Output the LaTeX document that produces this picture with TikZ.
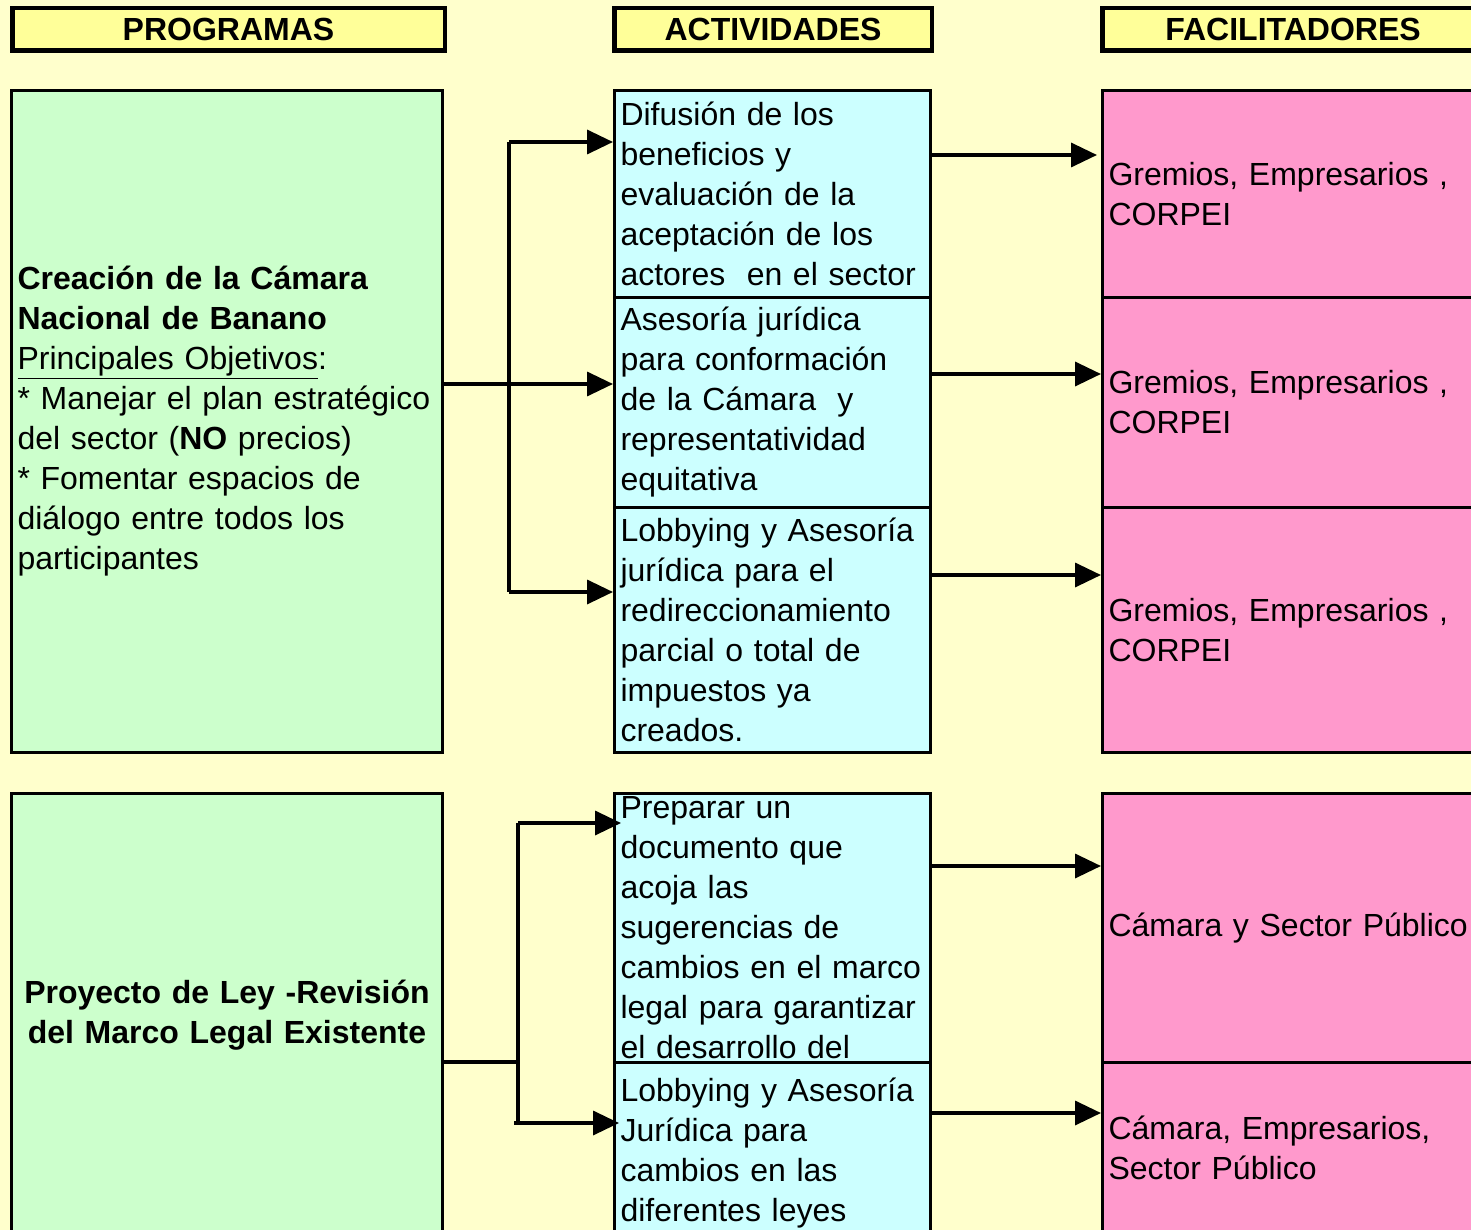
\documentclass[tikz,border=0pt]{standalone}
\usepackage{fontspec}
\setmainfont{Liberation Sans}
\usetikzlibrary{arrows.meta}

\definecolor{fondo}{HTML}{FFFFCC}
\definecolor{titulo}{HTML}{FFFF99}
\definecolor{verde}{HTML}{CCFFCC}
\definecolor{celeste}{HTML}{CCFFFF}
\definecolor{rosa}{HTML}{FF99CC}

\begin{document}
\begin{tikzpicture}[x=1pt,y=-1pt,
	caja/.style={draw, line width=3pt, anchor=north west, inner xsep=6pt, inner ysep=0pt,
		font=\fontsize{32}{40}\selectfont},
	cabeza/.style={draw, line width=4.5pt, fill=titulo, anchor=north west, inner sep=0pt,
		minimum height=42.5pt, font=\fontsize{32}{36}\selectfont\bfseries},
	prog/.style={caja, fill=verde, minimum width=431pt, text width=419pt},
	act/.style={caja, fill=celeste, minimum width=316pt, text width=304pt, align=left},
	faci/.style={caja, fill=rosa, minimum width=420pt, text width=408pt, align=left},
	linea/.style={line width=3.5pt},
	flecha/.style={line width=3.5pt, -{Triangle[length=26pt,width=24pt]}}]

		\fill [fondo] (0,0) rectangle (1471,1230);
		\useasboundingbox (0,0) rectangle (1471,1230);

		% titulos
		\node [cabeza, minimum width=432.5pt] (hprog) at (10,6) {PROGRAMAS};
		\node [cabeza, minimum width=317.5pt] (hact) at (612,6) {ACTIVIDADES};
		\node [cabeza, minimum width=381.5pt] (hfac) at (1100,6) {FACILITADORES};

		% primer programa
		\node [prog, minimum height=662pt, align=left] (prog1) at (10,89)
			{\textbf{Creación de la Cámara}\\
			\textbf{Nacional de Banano}\\
			\underline{Principales Objetivos}:\\
			{*} Manejar el plan estratégico\\
			del sector (\textbf{NO} precios)\\
			{*} Fomentar espacios de\\
			diálogo entre todos los\\
			participantes};

		\node [act, minimum height=207.5pt] (act1) at (613,89)
			{Difusión de los\\ beneficios y\\ evaluación de la\\ aceptación de los\\ actores\ \ en el sector};
		\node [act, minimum height=209pt] (act2) at (613,296.5)
			{Asesoría jurídica\\ para conformación\\ de la Cámara\ \ y\\ representatividad\\ equitativa};
		\node [act, minimum height=245.5pt] (act3) at (613,505.5)
			{Lobbying y Asesoría\\ jurídica para el\\ redireccionamiento\\ parcial o total de\\ impuestos ya\\ creados.};

		\node [faci, minimum height=207.5pt] (fac1) at (1101,89) {Gremios, Empresarios ,\\ CORPEI};
		\node [faci, minimum height=209pt] (fac2) at (1101,296.5) {Gremios, Empresarios ,\\ CORPEI};
		\node [faci, minimum height=245.5pt] (fac3) at (1101,505.5) {Gremios, Empresarios ,\\ CORPEI};

		% segundo programa
		\node [prog, minimum height=442.5pt, align=center] (prog2) at (10,792)
			{\textbf{Proyecto de Ley -Revisión}\\ \textbf{del Marco Legal Existente}};

		\node [act, minimum height=268.5pt] (act4) at (613,792)
			{Preparar un\\ documento que\\ acoja las\\ sugerencias de\\ cambios en el marco\\ legal para garantizar\\ el desarrollo del};
		\node [act, minimum height=182pt] (act5) at (613,1060.5)
			{Lobbying y Asesoría\\ Jurídica para\\ cambios en las\\ diferentes leyes};

		\node [faci, minimum height=268.5pt] (fac4) at (1101,792) {Cámara y Sector Público};
		\node [faci, minimum height=172pt] (fac5) at (1101,1060.5) {Cámara, Empresarios,\\ Sector Público};

		% conectores
		\coordinate (bif1a) at (509,142);
		\coordinate (bif1b) at (509,384);
		\coordinate (bif1c) at (509,592);
		\draw [linea] (bif1a) -- (bif1c);
		\draw [flecha] (bif1a) -- (act1.west |- bif1a);
		\draw [flecha] (prog1.east |- bif1b) -- (act2.west |- bif1b);
		\draw [flecha] (bif1c) -- (act3.west |- bif1c);

		\coordinate (bif2a) at (518,823);
		\coordinate (bif2b) at (518,1062);
		\coordinate (bif2c) at (518,1123);
		\draw [linea] (prog2.east |- bif2b) -- (bif2b);
		\draw [linea] (bif2a) -- (bif2c);
		\draw [flecha] (bif2a) -- ([xshift=8pt]act4.west |- bif2a);
		\draw [flecha] ([xshift=-4pt]bif2c) -- ([xshift=6pt]act5.west |- bif2c);

		\coordinate (sal1) at (1000,155);
		\coordinate (sal2) at (1000,374);
		\coordinate (sal3) at (1000,575);
		\coordinate (sal4) at (1000,866);
		\coordinate (sal5) at (1000,1113);
		\draw [flecha] (act1.east |- sal1) -- ([xshift=-4pt]fac1.west |- sal1);
		\draw [flecha] (act2.east |- sal2) -- (fac2.west |- sal2);
		\draw [flecha] (act3.east |- sal3) -- (fac3.west |- sal3);
		\draw [flecha] (act4.east |- sal4) -- (fac4.west |- sal4);
		\draw [flecha] (act5.east |- sal5) -- (fac5.west |- sal5);

\end{tikzpicture}
\end{document}
